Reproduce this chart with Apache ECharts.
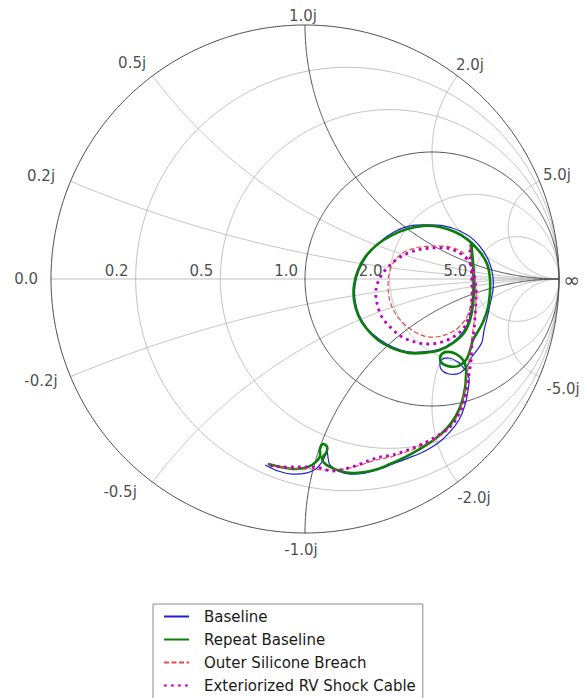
<!DOCTYPE html>
<html><head><meta charset="utf-8">
<script src="https://cdn.jsdelivr.net/npm/echarts@6/dist/echarts.min.js"></script>
<style>html,body{margin:0;padding:0;background:#fff}#c{width:584px;height:698px}</style>
</head><body><div id="c"></div>
<script>
// Reflection coefficient (Gamma) traces, real and imaginary parts
const baselineRe = [-0.157,-0.106,-0.051,0.004,0.043,0.067,0.079,0.087,0.091,0.098,0.130,0.177,0.236,0.295,0.346,0.406,0.465,0.524,0.571,0.606,0.630,0.642,0.646,0.630,0.602,0.563,0.535,0.535,0.567,0.610,0.638,0.654,0.677,0.697,0.705,0.717,0.728,0.740,0.740,0.728,0.705,0.665,0.610,0.547,0.480,0.413,0.350,0.295,0.244,0.213,0.197,0.197,0.213,0.244,0.291,0.346,0.406,0.469,0.531,0.583,0.622,0.646,0.657,0.661,0.661,0.657,0.654,0.650];
const baselineIm = [-0.732,-0.756,-0.768,-0.764,-0.748,-0.720,-0.697,-0.681,-0.705,-0.732,-0.756,-0.768,-0.764,-0.748,-0.728,-0.705,-0.681,-0.646,-0.602,-0.555,-0.496,-0.437,-0.390,-0.358,-0.327,-0.311,-0.323,-0.354,-0.374,-0.370,-0.343,-0.311,-0.280,-0.248,-0.201,-0.154,-0.102,-0.043,0.008,0.059,0.106,0.154,0.189,0.209,0.213,0.209,0.185,0.146,0.091,0.035,-0.024,-0.083,-0.142,-0.193,-0.236,-0.268,-0.287,-0.287,-0.276,-0.248,-0.209,-0.161,-0.102,-0.043,0.016,0.075,0.114,0.138];

const repeatRe = [-0.146,-0.098,-0.039,0.012,0.043,0.059,0.059,0.071,0.087,0.083,0.067,0.075,0.098,0.138,0.185,0.236,0.287,0.335,0.394,0.453,0.512,0.559,0.594,0.618,0.630,0.634,0.634,0.622,0.594,0.563,0.535,0.535,0.563,0.602,0.634,0.650,0.661,0.677,0.701,0.720,0.728,0.728,0.717,0.689,0.642,0.591,0.531,0.465,0.402,0.343,0.287,0.240,0.209,0.193,0.193,0.209,0.240,0.287,0.343,0.406,0.469,0.531,0.583,0.626,0.650,0.661,0.665,0.665,0.661,0.657,0.657];
const repeatIm = [-0.728,-0.740,-0.748,-0.740,-0.720,-0.697,-0.669,-0.650,-0.661,-0.685,-0.705,-0.724,-0.740,-0.756,-0.764,-0.760,-0.748,-0.728,-0.701,-0.669,-0.630,-0.587,-0.539,-0.484,-0.429,-0.378,-0.350,-0.319,-0.295,-0.287,-0.299,-0.327,-0.343,-0.343,-0.319,-0.280,-0.240,-0.213,-0.169,-0.114,-0.055,0.004,0.059,0.106,0.154,0.185,0.205,0.209,0.197,0.173,0.138,0.091,0.035,-0.024,-0.083,-0.142,-0.193,-0.240,-0.272,-0.291,-0.291,-0.280,-0.252,-0.213,-0.161,-0.102,-0.043,0.016,0.075,0.114,0.146];

const breachRe = [-0.130,-0.079,-0.020,0.028,0.067,0.106,0.157,0.209,0.256,0.295,0.335,0.374,0.421,0.472,0.524,0.567,0.598,0.618,0.630,0.638,0.646,0.654,0.661,0.669,0.673,0.673,0.665,0.650,0.618,0.571,0.512,0.453,0.398,0.358,0.335,0.327,0.331,0.350,0.386,0.433,0.484,0.539,0.591,0.630,0.650,0.657,0.657,0.654,0.650,0.650];
const breachIm = [-0.736,-0.744,-0.748,-0.748,-0.752,-0.752,-0.748,-0.736,-0.720,-0.709,-0.701,-0.689,-0.673,-0.650,-0.622,-0.587,-0.543,-0.492,-0.437,-0.378,-0.319,-0.260,-0.201,-0.146,-0.091,-0.035,0.020,0.067,0.106,0.126,0.130,0.126,0.110,0.079,0.035,-0.016,-0.071,-0.126,-0.173,-0.209,-0.228,-0.224,-0.201,-0.161,-0.114,-0.063,-0.004,0.055,0.106,0.142];

const cableRe = [-0.138,-0.087,-0.031,0.020,0.059,0.106,0.157,0.209,0.256,0.295,0.343,0.394,0.445,0.492,0.539,0.579,0.606,0.626,0.638,0.646,0.654,0.657,0.665,0.669,0.673,0.673,0.665,0.646,0.610,0.559,0.500,0.441,0.382,0.335,0.299,0.280,0.283,0.303,0.339,0.382,0.433,0.484,0.539,0.591,0.630,0.650,0.657,0.657,0.654,0.650,0.650];
const cableIm = [-0.736,-0.740,-0.740,-0.740,-0.744,-0.756,-0.748,-0.732,-0.713,-0.701,-0.693,-0.677,-0.657,-0.634,-0.606,-0.575,-0.531,-0.484,-0.429,-0.374,-0.319,-0.264,-0.209,-0.154,-0.094,-0.035,0.020,0.067,0.102,0.122,0.122,0.114,0.091,0.055,0.012,-0.039,-0.094,-0.150,-0.193,-0.228,-0.248,-0.256,-0.248,-0.224,-0.185,-0.130,-0.075,-0.016,0.043,0.094,0.134];

const seriesNames = ['Baseline','Repeat Baseline','Outer Silicone Breach','Exteriorized RV Shock Cable'];

// Smith grid values and tick labels
const majorR = [0, 1];
const minorR = [0.2, 0.5, 2, 5];
const majorX = [1, -1];
const minorX = [0.2, 0.5, 2, 5, -0.2, -0.5, -2, -5];
const realTickValues = [0, 0.2, 0.5, 1, 2, 5];
const realTickLabels = ['0.0','0.2','0.5','1.0','2.0','5.0'];
const imagTickValues = [0.2, 0.5, 1, 2, 5, -0.2, -0.5, -1, -2, -5];
const imagTickLabels = ['0.2j','0.5j','1.0j','2.0j','5.0j','-0.2j','-0.5j','-1.0j','-2.0j','-5.0j'];

// label placement (style)
const realLabelOffsets = [[-13,0],[-7,-8],[-7,-8],[-7,-8],[-7,-8],[-7,-8]];
const imagLabelOffsets = [[-29.5,-5],[-20.5,-13],[-2,-9],[12.5,-11],[17.5,-6],[-29.5,4],[-32.5,10],[-4,17],[16.5,16],[23.5,12]];

const FONT = 'DejaVu Sans';
const LIGHT = '#b8b8b8', DARK = '#4a4a4a';

function zip(re, im) { return re.map((v, i) => [v, im[i]]); }
function rCircle(r) {
  const c = r / (1 + r), rad = 1 / (1 + r), pts = [];
  for (let i = 0; i <= 720; i++) { const t = i / 720 * 2 * Math.PI; pts.push([c + rad * Math.cos(t), rad * Math.sin(t)]); }
  return pts;
}
function xArc(x) {
  const pts = [], N = 600;
  for (let i = 0; i < N; i++) {
    const r = Math.tan(i / N * Math.PI / 2);
    const D = (r + 1) * (r + 1) + x * x;
    pts.push([(r * r + x * x - 1) / D, 2 * x / D]);
  }
  pts.push([1, 0]);
  return pts;
}
function gridSeries(pts, color, width) {
  return { type: 'line', data: pts, symbol: 'none', silent: true, clip: false, z: 1,
    lineStyle: { color: color, width: width }, animation: false };
}

const series = [];
series.push(gridSeries([[-1, 0], [1, 0]], LIGHT, 0.9));
minorR.forEach(r => series.push(gridSeries(rCircle(r), LIGHT, 0.9)));
minorX.forEach(x => series.push(gridSeries(xArc(x), LIGHT, 0.9)));
majorR.forEach(r => series.push(gridSeries(rCircle(r), DARK, 1)));
majorX.forEach(x => series.push(gridSeries(xArc(x), DARK, 1)));

// tick labels as scatter labels at Smith positions
const labelData = [];
realTickValues.forEach((r, i) => {
  labelData.push({ value: [(r - 1) / (r + 1), 0], name: realTickLabels[i],
    label: { align: 'right', offset: realLabelOffsets[i] } });
});
labelData.push({ value: [1, 0], name: '\u221e', label: { align: 'center', offset: [12.5, 1], fontSize: 20 } });
imagTickValues.forEach((x, i) => {
  const D = 1 + x * x;
  labelData.push({ value: [(x * x - 1) / D, 2 * x / D], name: imagTickLabels[i],
    label: { align: 'center', offset: imagLabelOffsets[i] } });
});
series.push({ type: 'scatter', data: labelData, symbolSize: 0, silent: true, z: 3, clip: false,
  label: { show: true, position: 'inside', formatter: p => p.name, fontFamily: FONT, fontSize: 15,
    color: '#1a1a1a', verticalAlign: 'middle' } });

const traceStyles = [
  { color: '#1f1fd6', width: 1.2, type: 'solid' },
  { color: '#0a800a', width: 2.6, type: 'solid' },
  { color: '#e0504a', width: 1.2, type: [5, 2.5] },
  { color: '#bf00bf', width: 2.8, type: [2.8, 4.2] }
];
const traces = [zip(baselineRe, baselineIm), zip(repeatRe, repeatIm), zip(breachRe, breachIm), zip(cableRe, cableIm)];

// legend carriers (line icons)
traces.forEach((d, i) => {
  const s = traceStyles[i];
  series.push({ type: 'line', name: seriesNames[i], data: [], symbol: 'none',
    lineStyle: { color: s.color, width: s.width, type: s.type, cap: 'butt' }, itemStyle: { color: s.color } });
});

// traces drawn as Catmull-Rom splines through the data points via the axis scales
function splinePath(pts) {
  let d = 'M' + pts[0][0].toFixed(2) + ' ' + pts[0][1].toFixed(2);
  for (let i = 0; i < pts.length - 1; i++) {
    const p0 = pts[Math.max(i - 1, 0)], p1 = pts[i], p2 = pts[i + 1], p3 = pts[Math.min(i + 2, pts.length - 1)];
    const c1x = p1[0] + (p2[0] - p0[0]) / 6, c1y = p1[1] + (p2[1] - p0[1]) / 6;
    const c2x = p2[0] - (p3[0] - p1[0]) / 6, c2y = p2[1] - (p3[1] - p1[1]) / 6;
    d += ' C' + c1x.toFixed(2) + ' ' + c1y.toFixed(2) + ' ' + c2x.toFixed(2) + ' ' + c2y.toFixed(2) + ' ' + p2[0].toFixed(2) + ' ' + p2[1].toFixed(2);
  }
  return d;
}
traces.forEach((d, i) => {
  const s = traceStyles[i];
  series.push({
    type: 'custom', data: d, encode: { x: 0, y: 1 }, z: 5, silent: true, clip: false,
    renderItem: function (params, api) {
      if (params.dataIndex !== 0) return null;
      const px = d.map(p => api.coord(p));
      return { type: 'path', shape: { pathData: splinePath(px) },
        style: { fill: 'none', stroke: s.color, lineWidth: s.width, lineDash: s.type === 'solid' ? null : s.type, lineCap: 'butt', lineJoin: 'round' } };
    }
  });
});

const chart = echarts.init(document.getElementById('c'), null, { renderer: 'svg' });
chart.setOption({
  animation: false,
  backgroundColor: '#fff',
  grid: { left: 51, top: 25, width: 508, height: 508 },
  xAxis: { type: 'value', min: -1, max: 1, show: false },
  yAxis: { type: 'value', min: -1, max: 1, show: false },
  legend: {
    data: seriesNames, orient: 'vertical', left: 153, top: 604, height: 200,
    itemWidth: 25, itemHeight: 14, itemGap: 8,
    padding: [5, 7, 6, 10],
    borderColor: '#8a8a8a', borderWidth: 1, backgroundColor: '#fff',
    itemStyle: { opacity: 0 },
    textStyle: { fontFamily: FONT, fontSize: 15, color: '#1a1a1a', lineHeight: 15, padding: [0, 0, 0, 10] },
    selectedMode: false
  },
  series: series
});
</script>
</body></html>
